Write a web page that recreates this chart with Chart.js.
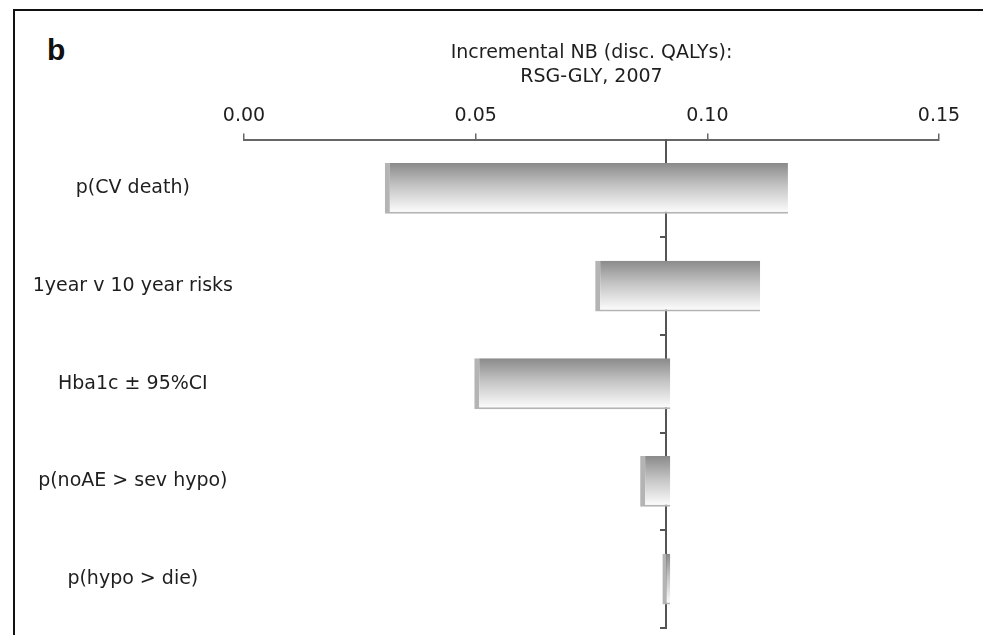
<!DOCTYPE html>
<html>
<head>
<meta charset="utf-8">
<title>Incremental NB tornado</title>
<script src="https://cdn.jsdelivr.net/npm/chart.js@4.4.1/dist/chart.umd.min.js"></script>
<style>
  html, body { margin: 0; padding: 0; background: #fff; }
  #wrap { position: relative; width: 983px; height: 635px; overflow: hidden; }
  #frame { position: absolute; left: 13px; top: 9px; width: 1000px; height: 700px; border: 2px solid #111; }
  #panel { position: absolute; left: 47px; top: 33px; font: bold 30px "Liberation Sans", Arial, sans-serif; color: #111; }
  #chart { position: absolute; left: 0; top: 0; }
</style>
</head>
<body>
<div id="wrap">
  <div id="frame"></div>
  <div id="panel">b</div>
  <canvas id="chart" width="983" height="635"></canvas>
</div>
<script>
// parameters of the one-way sensitivity analysis (top to bottom)
const factors = ['p(CV death)', '1year v 10 year risks', 'Hba1c \u00b1 95%CI', 'p(noAE > sev hypo)', 'p(hypo > die)'];
// incremental net benefit at the low / high end of each parameter range
const lowValues = [0.0304, 0.0758, 0.0497, 0.0855, 0.0903];
const highValues = [0.1174, 0.1114, 0.0920, 0.0920, 0.0920];
// base case value (vertical line)
const baseValue = 0.091;
const tickValues = [0, 0.05, 0.10, 0.15];
const titleLines = ['Incremental NB (disc. QALYs):', 'RSG-GLY, 2007'];

const FONT = 'DejaVu Sans';
const TEXT = '#1e1e1e';
const BAR_PCT = 0.52;

const barData = factors.map((f, i) => [lowValues[i], highValues[i]]);

// grey-to-white shading like the original 3d-ish bars
function barShade(c) {
  const chart = c.chart;
  const yScale = chart.scales.y;
  if (!chart.chartArea || !yScale || c.type !== 'data') return '#c0c0c0';
  const mid = yScale.getPixelForValue(c.dataIndex);
  const half = (yScale.height / factors.length) * BAR_PCT / 2;
  const g = chart.ctx.createLinearGradient(0, mid - half, 0, mid + half);
  g.addColorStop(0, '#8a8a8a');
  g.addColorStop(0.45, '#c4c4c4');
  g.addColorStop(1, '#ffffff');
  return g;
}

new Chart(document.getElementById('chart'), {
  type: 'bar',
  data: {
    labels: factors,
    datasets: [{
      data: barData,
      backgroundColor: barShade,
      borderColor: '#b4b4b4',
      borderWidth: { left: 5, top: 0, right: 0, bottom: 2 },
      borderSkipped: false,
      barPercentage: BAR_PCT,
      categoryPercentage: 1,
    }],
  },
  options: {
    indexAxis: 'y',
    responsive: false,
    animation: false,
    layout: { padding: { left: 0, right: 44, top: 0, bottom: 7 } },
    plugins: {
      legend: { display: false },
      tooltip: { enabled: false },
      title: {
        display: true,
        fullSize: false,
        text: titleLines,
        color: TEXT,
        font: { family: FONT, size: 19, weight: 'normal', lineHeight: 1.25 },
        padding: { top: 41, bottom: 7 },
      },
    },
    scales: {
      x: {
        type: 'linear',
        position: 'top',
        min: 0,
        max: 0.15,
        afterBuildTicks: (s) => { s.ticks = tickValues.map((v) => ({ value: v })); },
        afterFit: (s) => { s.height = 44; },
        ticks: {
          callback: (v) => Number(v).toFixed(2),
          padding: 6,
          color: TEXT,
          font: { family: FONT, size: 19 },
        },
        grid: { drawOnChartArea: false, drawTicks: true, tickLength: 6, color: '#666', lineWidth: 1.5 },
        border: { color: '#666', width: 2 },
      },
      y: {
        type: 'category',
        position: 'left',
        afterFit: (s) => {
          s.width = 244;
          // rows are offset, so the labels need no extra room above/below
          s.paddingTop = 0;
          s.paddingBottom = 0;
        },
        grid: { display: false },
        border: { display: false },
        ticks: { crossAlign: 'center', padding: 3, color: TEXT, font: { family: FONT, size: 19 } },
      },
      // base case line, with its small ticks between the rows
      y2: {
        type: 'category',
        position: { x: baseValue },
        afterFit: (s) => { s.paddingTop = 0; s.paddingBottom = 0; },
        grid: { drawOnChartArea: false, offset: true, tickLength: 5, color: '#555', lineWidth: 2 },
        border: { color: '#555', width: 2 },
        ticks: { display: false },
      },
    },
  },
});
</script>
</body>
</html>
